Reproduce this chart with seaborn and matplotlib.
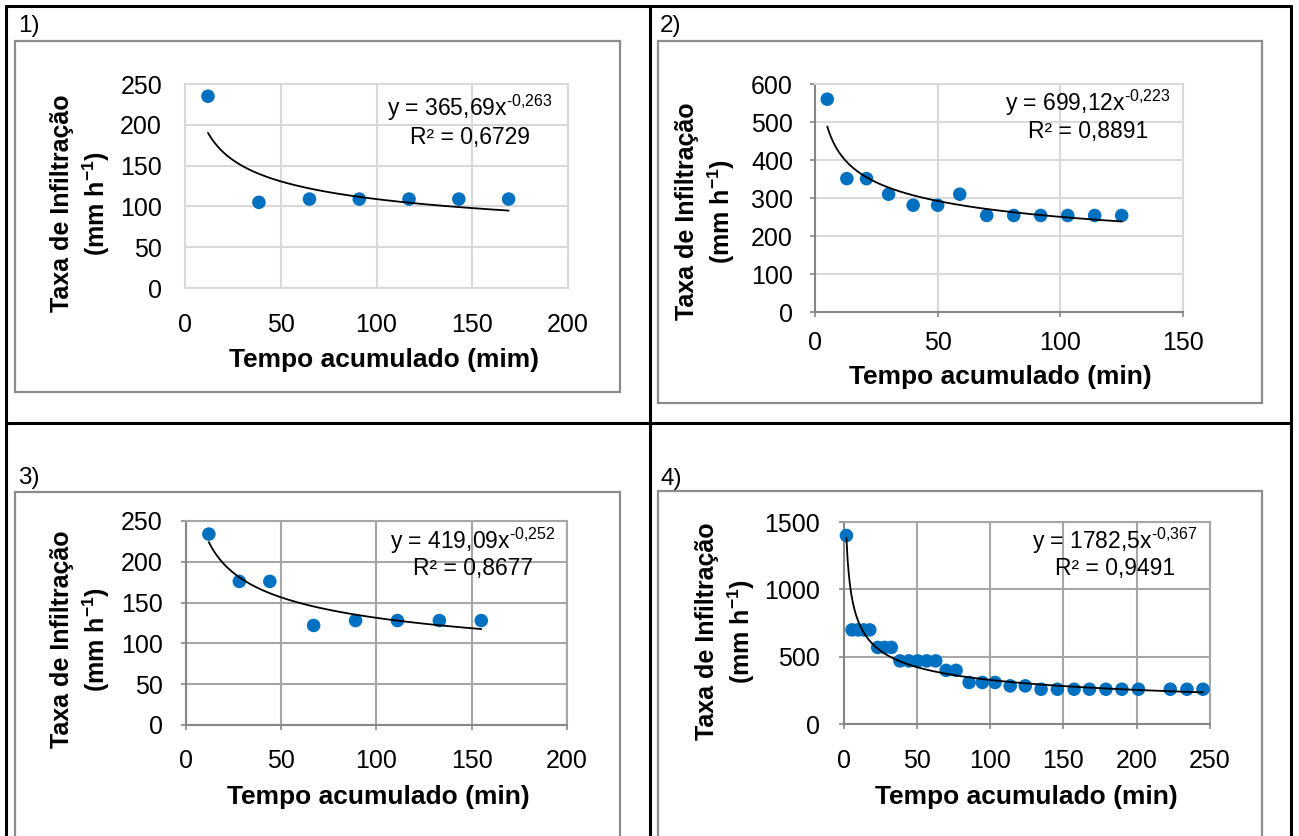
import numpy as np
import matplotlib
matplotlib.use("Agg")
import matplotlib.pyplot as plt
import seaborn as sns
from matplotlib.lines import Line2D
from matplotlib.patches import Rectangle

sns.set_theme(style="white")
plt.rcParams['font.family'] = ['Liberation Sans', 'DejaVu Sans']
plt.rcParams['mathtext.fontset'] = 'custom'
plt.rcParams['mathtext.rm'] = 'Liberation Sans'
plt.rcParams['mathtext.it'] = 'Liberation Sans:italic'
plt.rcParams['mathtext.bf'] = 'Liberation Sans:bold'

# ---------------- data ----------------
t1 = [12, 38.6, 65, 91, 117, 143, 169]
f1 = [235, 105, 109, 109, 109, 109, 109]
t2 = [5, 13, 21, 30, 40, 50, 59, 70, 81, 92, 103, 114, 125]
f2 = [560, 351, 351, 310, 281, 281, 310, 254, 254, 254, 254, 254, 254]
t3 = [12, 28, 44, 67, 89, 111, 133, 155]
f3 = [234, 176, 176, 122, 128, 128, 128, 128]
t4 = [2, 5.8, 9.8, 13.8, 17.9, 23.3, 28, 32.6, 38.5, 44.6, 50.7, 56.8, 62.9,
      70, 76.8, 85.7, 94.7, 103.4, 113.7, 124, 134.8, 145.9, 157.3, 167.8,
      179, 189.9, 201.2, 222.9, 234.3, 245.2]
f4 = [1400, 700, 700, 700, 700, 570, 570, 570, 470, 470, 470, 470, 470,
      400, 400, 310, 310, 310, 285, 285, 260, 260, 260, 260, 260, 260, 260,
      260, 260, 260]

coef_a = [365.69, 699.12, 419.09, 1782.5]
coef_b = [-0.263, -0.223, -0.252, -0.367]
r2_labels = ["0,6729", "0,8891", "0,8677", "0,9491"]
a_labels = ["365,69", "699,12", "419,09", "1782,5"]
b_labels = ["-0,263", "-0,223", "-0,252", "-0,367"]
panel_labels = ["1)", "2)", "3)", "4)"]
xlabels = ["Tempo acumulado (mim)", "Tempo acumulado (min)",
           "Tempo acumulado (min)", "Tempo acumulado (min)"]
xlims = [200, 150, 200, 250]
ylims = [250, 600, 250, 1500]
xsteps = [50, 50, 50, 50]
ysteps = [50, 100, 50, 500]

W, H = 1299, 836
fig = plt.figure(figsize=(W / 100, H / 100), dpi=100)


def fx(x):
    return x / W


def fy(y):
    return 1 - y / H


def box(x0, y0, x1, y1):
    return [fx(x0), fy(y1), (x1 - x0) / W, (y1 - y0) / H]


# table lines
for (x0, y0, x1, y1) in [(6, 6, 1291, 6), (6, 6, 6, 840), (1291, 6, 1291, 840),
                         (650, 6, 650, 840), (6, 423, 1291, 423)]:
    fig.add_artist(Line2D([fx(x0), fx(x1)], [fy(y0), fy(y1)], color='black',
                          lw=2.2, transform=fig.transFigure, zorder=10))

# chart frames
frames = [(15, 41, 620, 392), (658, 41, 1262, 403),
          (15, 492, 620, 850), (658, 491, 1262, 850)]
for (x0, y0, x1, y1) in frames:
    fig.add_artist(Rectangle((fx(x0), fy(y1)), (x1 - x0) / W, (y1 - y0) / H,
                             fill=False, edgecolor='#8c8c8c', lw=1.6,
                             transform=fig.transFigure, zorder=5))

# plot areas
areas = [(185, 84, 568, 288), (815, 84, 1183, 312),
         (186, 521, 567, 725), (843.5, 522, 1210, 724.3)]
grid_col = ['#d9d9d9', '#d9d9d9', '#a6a6a6', '#a6a6a6']
has_ticks = [False, True, True, True]
xpad = [18.0, 10.2, 13.8, 14.3]
ypad = [16.5, 12.2, 13.0, 13.3]

label_pos = [(18, 32), (660, 32), (18, 484), (660, 485)]
ylab_pos = [(81, 203), (706, 211), (81, 639), (726, 631)]
xlab_pos = [(384, 360), (1000, 377), (378, 797), (1026, 797)]
eq_pos = [(470, 116, 144), (1088, 111, 138), (473, 549, 575), (1115, 549, 575)]

data = [(t1, f1), (t2, f2), (t3, f3), (t4, f4)]

for i in range(4):
    ax = fig.add_axes(box(*areas[i]))
    t, f = data[i]
    ax.set_xlim(0, xlims[i])
    ax.set_ylim(0, ylims[i])
    ax.set_xticks(np.arange(0, xlims[i] + 1, xsteps[i]))
    ax.set_yticks(np.arange(0, ylims[i] + 1, ysteps[i]))
    ax.grid(True, color=grid_col[i], lw=1.5)
    ax.set_axisbelow(True)
    for s in ax.spines.values():
        s.set_color(grid_col[i])
        s.set_linewidth(1.5)
    if has_ticks[i]:
        for s in ['left', 'bottom']:
            ax.spines[s].set_color('#868686')
        ax.tick_params(axis='both', length=3.6, width=1.2, color='#868686',
                       direction='out', bottom=True, left=True)
    else:
        ax.tick_params(axis='both', length=0)
    ax.tick_params(axis='x', pad=xpad[i], labelsize=18, labelcolor='black')
    ax.tick_params(axis='y', pad=ypad[i], labelsize=18, labelcolor='black')

    tf = np.linspace(min(t), max(t), 300)
    yf = coef_a[i] * tf ** coef_b[i]
    sns.lineplot(x=tf, y=yf, ax=ax, color='black', lw=1.3, zorder=4,
                 estimator=None, sort=False)
    sns.scatterplot(x=t, y=f, ax=ax, color='#0070C0', s=95, linewidth=0,
                    edgecolor='none', zorder=3, clip_on=False)
    ax.set_xlabel('')
    ax.set_ylabel('')

    # texts
    lx, ly = label_pos[i]
    fig.text(fx(lx), fy(ly), panel_labels[i], fontsize=17.5, ha='left',
             va='baseline', color='black')
    yx, yy = ylab_pos[i]
    fig.text(fx(yx), fy(yy), "Taxa de Infiltração\n(mm h$^{\\mathbf{-1}}$)",
             fontsize=18, fontweight='bold', rotation=90, ha='center',
             va='center', multialignment='center', linespacing=1.25,
             color='black')
    xx, xy = xlab_pos[i]
    fig.text(fx(xx), fy(xy), xlabels[i], fontsize=19, fontweight='bold',
             ha='center', va='center', color='black')
    ex, e1, e2 = eq_pos[i]
    fig.text(fx(ex), fy(e1),
             "y = " + a_labels[i] + "x$^{\\text{" + b_labels[i] + "}}$",
             fontsize=16.5, ha='center', va='baseline', color='black', zorder=6)
    fig.text(fx(ex), fy(e2), "R² = " + r2_labels[i], fontsize=16.5,
             ha='center', va='baseline', color='black', zorder=6)

fig.savefig("out.png", dpi=100, facecolor='white')
